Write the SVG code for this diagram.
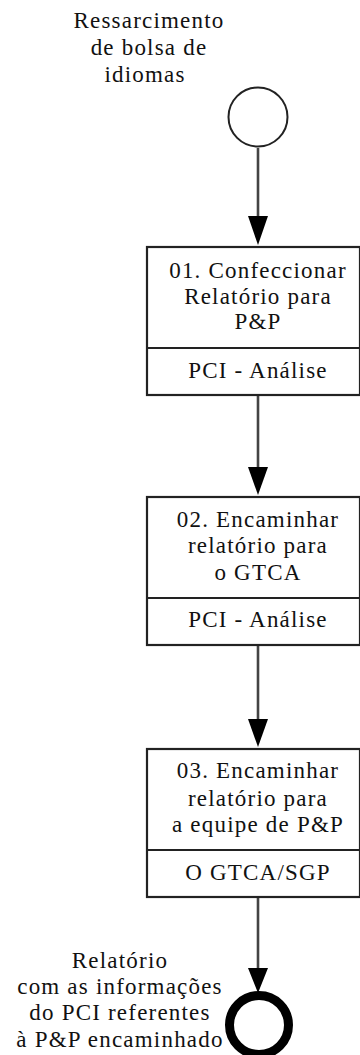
<svg xmlns="http://www.w3.org/2000/svg" width="360" height="1055" viewBox="0 0 360 1055">
<defs>
<style>
text{font-family:'Liberation Serif','Times New Roman','DejaVu Serif',serif;font-size:23px;letter-spacing:1.2px;fill:#111;text-anchor:middle}
.box{fill:#fff;stroke:#222;stroke-width:2.2}
.div{stroke:#222;stroke-width:2.2}
.conn{stroke:#444;stroke-width:2.6;fill:none}
.head{fill:#000}
</style>
</defs>
<g id="connectors">
<line class="conn" x1="258" y1="148" x2="258" y2="232"/>
<path class="head" d="M248,216 L268,216 L258,245 Z"/>
<line class="conn" x1="258" y1="396" x2="258" y2="482"/>
<path class="head" d="M248,467 L268,467 L258,495 Z"/>
<line class="conn" x1="258" y1="646" x2="258" y2="734"/>
<path class="head" d="M248,719 L268,719 L258,747 Z"/>
<line class="conn" x1="258" y1="898" x2="258" y2="976"/>
<path class="head" d="M248,968 L268,968 L258,993 Z"/>
</g>
<g id="start">
<circle cx="258" cy="117" r="29.5" fill="#fff" stroke="#222" stroke-width="2"/>
<text x="149" y="28" font-family="Liberation Serif, serif">Ressarcimento</text>
<text x="149" y="55" font-family="Liberation Serif, serif">de bolsa de</text>
<text x="145" y="82" font-family="Liberation Serif, serif">idiomas</text>
</g>
<g id="task1" font-family="Liberation Serif, serif">
<rect class="box" x="147" y="247" width="213" height="148"/>
<line class="div" x1="147" y1="348" x2="360" y2="348"/>
<text x="258" y="278">01. Confeccionar</text>
<text x="258" y="304">Relatório para</text>
<text x="258" y="329">P&amp;P</text>
<text x="258" y="378">PCI - Análise</text>
</g>
<g id="task2">
<rect class="box" x="147" y="497" width="213" height="148"/>
<line class="div" x1="147" y1="598" x2="360" y2="598"/>
<text x="258" y="527">02. Encaminhar</text>
<text x="258" y="553">relatório para</text>
<text x="258" y="580">o GTCA</text>
<text x="258" y="627">PCI - Análise</text>
</g>
<g id="task3">
<rect class="box" x="147" y="749" width="213" height="148"/>
<line class="div" x1="147" y1="850" x2="360" y2="850"/>
<text x="258" y="778">03. Encaminhar</text>
<text x="258" y="806">relatório para</text>
<text x="258" y="832">a equipe de P&amp;P</text>
<text x="258" y="880">O GTCA/SGP</text>
</g>
<g id="end">
<circle cx="259" cy="1025" r="29.5" fill="#fff" stroke="#000" stroke-width="9"/>
<text x="120" y="968">Relatório</text>
<text x="120" y="994">com as informações</text>
<text x="120" y="1020">do PCI referentes</text>
<text x="120" y="1047">à P&amp;P encaminhado</text>
</g>
</svg>
